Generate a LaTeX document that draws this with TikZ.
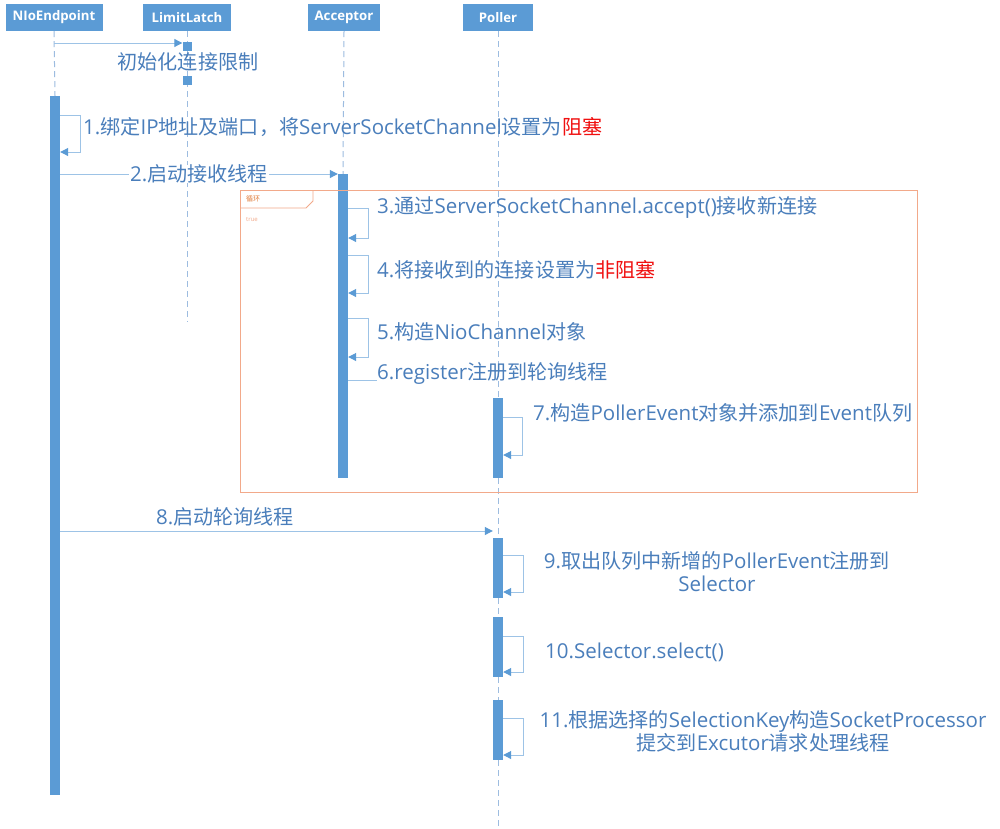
\documentclass[tikz,border=0pt]{standalone}
\usepackage{fontspec}
\setmainfont{Open Sans}
\newfontfamily\cjk[Scale=0.98]{Noto Sans CJK SC}
\newfontfamily\cjkplain{Noto Sans CJK SC}
\newfontfamily\headfont{Open Sans}
\newcommand\cj[1]{{\cjk #1}}
\usetikzlibrary{arrows.meta}
\definecolor{barc}{HTML}{5B9BD5}
\definecolor{msgc}{HTML}{9DC3E6}
\definecolor{lifec}{HTML}{9DBCE0}
\definecolor{txtc}{HTML}{4A7EBB}
\definecolor{loopc}{HTML}{F2A98A}
\definecolor{loopt}{HTML}{E07B39}
\definecolor{redc}{HTML}{F01010}
\tikzset{
  head/.style={fill=barc, text=white, font=\headfont\bfseries\fontsize{13.2}{15}\selectfont, inner sep=0pt, minimum height=27pt},
  life/.style={draw=lifec, line width=1pt, dash pattern=on 6pt off 4pt},
  actbar/.style={fill=barc, draw=none, minimum width=10pt, inner sep=0pt},
  msgline/.style={draw=msgc, line width=1pt},
  msgarrow/.style={msgline, -{Triangle[length=8pt,width=8pt,fill=barc,color=barc]}},
  lbl/.style={text=txtc, font=\fontsize{20.5}{23}\selectfont, inner sep=0pt},
  sq/.style={fill=barc, minimum width=9pt, minimum height=9pt, inner sep=0pt},
}
\begin{document}
\begin{tikzpicture}[x=1pt,y=-1pt]
\useasboundingbox (0,0) rectangle (1000,828);
\fill[white] (0,0) rectangle (1000,828);

% heads
\node[head, minimum width=97pt] (hN) at (54,17.5) {NIoEndpoint};
\node[head, minimum width=88pt] (hL) at (187,17.5) {LimitLatch};
\node[head, minimum width=72pt] (hA) at (344,17.5) {Acceptor};
\node[head, minimum width=70pt] (hP) at (498,17.5) {Poller};

% activation bars
\node[actbar, minimum height=699pt] (bN) at (55,445.5) {};
\node[actbar, minimum height=304pt] (bA) at (343,326) {};
\node[actbar, minimum height=80pt] (bP1) at (498,438) {};
\node[actbar, minimum height=60pt] (bP2) at (498,568) {};
\node[actbar, minimum height=60pt] (bP3) at (498,647) {};
\node[actbar, minimum height=60pt] (bP4) at (498,730) {};

% lifeline end coordinates
\coordinate (eL) at (187,322);
\coordinate (eP) at (498,828);

% lifelines
\draw[life] (hN.south) -- (bN.north);
\draw[life] (hL.south) -- (eL);
\draw[life] (hA.south) -- (bA.north);
\draw[life] (hP.south) -- (bP1.north);
\draw[life] (bP1.south) -- (bP2.north);
\draw[life] (bP2.south) -- (bP3.north);
\draw[life] (bP3.south) -- (bP4.north);
\draw[life] (bP4.south) -- (eP);

% init limit
\node[sq] (s1) at (187,46) {};
\node[sq] (s2) at (187,80) {};
\draw[msgarrow] (hN.south |- 0,43) -- (s1.west |- 0,43);
\node[lbl] (l0) at (188,62) {\cj{初始化连接限制}};

% 1
\draw[msgarrow] (bN.east |- 0,115) -- ++(20,0) |- (bN.east |- 0,152);
\node[lbl, anchor=west] (l1) at (83,127) {1.\cj{绑定}IP\cj{地址及端口，将}ServerSocketChannel\cj{设置为}\textcolor{redc}{\cj{阻塞}}};

% 2
\draw[msgarrow] (bN.east |- 0,174) -- (bA.west |- 0,174);
\node[lbl, fill=white, inner xsep=1pt] (l2) at (199,174) {2.\cj{启动接收线程}};

% loop frame
\draw[loopc, line width=0.8pt] (240,190) rectangle (917,492);
\draw[loopc, line width=0.8pt] (240,208) -- (306,208) -- (313,201) -- (313,190);
\node[anchor=west, text=loopt, font=\cjkplain\fontsize{7}{8}\selectfont, inner sep=0pt] (lt) at (246,199) {循环};
\node[anchor=west, text=loopc, font=\fontsize{6}{7}\selectfont, inner sep=0pt] (lc) at (246,220) {true};

% 3
\draw[msgarrow] (bA.east |- 0,208) -- ++(20,0) |- (bA.east |- 0,238);
\node[lbl, anchor=west] (l3) at (377,207) {3.\cj{通过}ServerSocketChannel.accept()\cj{接收新连接}};

% 4
\draw[msgarrow] (bA.east |- 0,255) -- ++(20,0) |- (bA.east |- 0,293);
\node[lbl, anchor=west] (l4) at (377,270) {4.\cj{将接收到的连接设置为}\textcolor{redc}{\cj{非阻塞}}};

% 5
\draw[msgarrow] (bA.east |- 0,318) -- ++(20,0) |- (bA.east |- 0,357);
\node[lbl, anchor=west] (l5) at (377,332) {5.\cj{构造}NioChannel\cj{对象}};

% 6
\node[lbl, anchor=west] (l6) at (377,373) {6.register\cj{注册到轮询线程}};
\draw[msgline] (bA.east |- 0,380) -- (l6.west |- 0,380);

% 7
\draw[msgarrow] (bP1.east |- 0,417) -- ++(19,0) |- (bP1.east |- 0,455);
\node[lbl, anchor=west] (l7) at (533,413) {7.\cj{构造}PollerEvent\cj{对象并添加到}Event\cj{队列}};

% 8
\draw[msgarrow] (bN.east |- 0,531) -- (bP2.west |- 0,531);
\node[lbl] (l8) at (225,517) {8.\cj{启动轮询线程}};

% 9
\draw[msgarrow] (bP2.east |- 0,555) -- ++(20,0) |- (bP2.east |- 0,592);
\node[lbl, align=center] (l9) at (717,572) {9.\cj{取出队列中新增的}PollerEvent\cj{注册到}\\Selector};

% 10
\draw[msgarrow] (bP3.east |- 0,636) -- ++(20,0) |- (bP3.east |- 0,672);
\node[lbl, anchor=west] (l10) at (545,652) {10.Selector.select()};

% 11
\draw[msgarrow] (bP4.east |- 0,718) -- ++(20,0) |- (bP4.east |- 0,755);
\node[lbl, align=center] (l11) at (763,731) {11.\cj{根据选择的}SelectionKey\cj{构造}SocketProcessor\\\cj{提交到}Excutor\cj{请求处理线程}};
\end{tikzpicture}
\end{document}
